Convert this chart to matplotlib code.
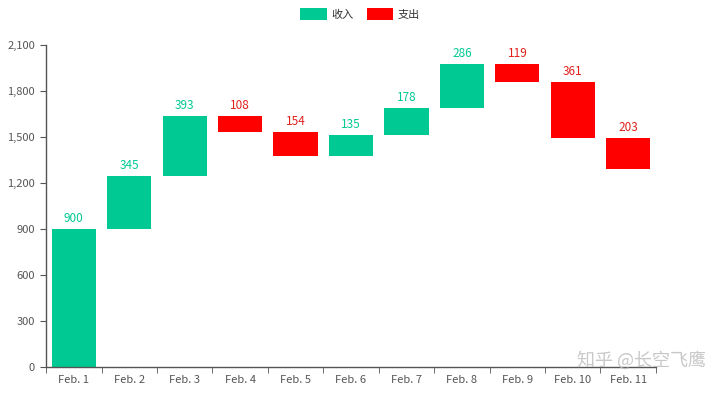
import numpy as np
import matplotlib.pyplot as plt

# data
days = ['Feb. 1', 'Feb. 2', 'Feb. 3', 'Feb. 4', 'Feb. 5', 'Feb. 6',
        'Feb. 7', 'Feb. 8', 'Feb. 9', 'Feb. 10', 'Feb. 11']
amounts = [900, 345, 393, 108, 154, 135, 178, 286, 119, 361, 203]
is_income = [True, True, True, False, False, True, True, True, False, False, False]

green = '#00C993'
red = '#FF0000'

plt.rcParams['font.family'] = ['Noto Sans CJK SC', 'DejaVu Sans']

signed = np.where(is_income, amounts, -np.array(amounts))
total = np.cumsum(signed)
base = np.where(is_income, total - signed, total)

fig = plt.figure(figsize=(7.2, 3.93), dpi=100)
ax = fig.add_axes([0.064, 0.066, 0.847, 0.82])

x = np.arange(len(days))
inc = np.array(is_income)
ax.bar(x[inc], np.array(amounts)[inc], bottom=base[inc], width=0.8,
       color=green, label='收入')
ax.bar(x[~inc], np.array(amounts)[~inc], bottom=base[~inc], width=0.8,
       color=red, label='支出')

for i in range(len(days)):
    ax.text(x[i], base[i] + amounts[i] + 25, str(amounts[i]),
            ha='center', va='bottom', fontsize=8.5,
            color=green if is_income[i] else '#E0201B')

ax.set_xlim(-0.5, len(days) - 0.5)
ax.set_ylim(0, 2100)
ax.set_yticks(np.arange(0, 2101, 300))
ax.set_yticklabels([f'{v:,}' for v in range(0, 2101, 300)])
ax.set_xticks(x)
ax.set_xticklabels(days)
ax.set_xticks(np.arange(-0.5, len(days), 1), minor=True)
ax.tick_params(axis='x', which='major', length=0, pad=6)
ax.tick_params(axis='x', which='minor', length=4, color='#555555')
ax.tick_params(axis='y', length=4, color='#555555', pad=4)
ax.tick_params(labelsize=8, labelcolor='#555555')

for s in ['top', 'right']:
    ax.spines[s].set_visible(False)
for s in ['left', 'bottom']:
    ax.spines[s].set_color('#555555')
    ax.spines[s].set_linewidth(1)

leg = fig.legend(loc='upper center', bbox_to_anchor=(0.5, 1.005), ncol=2,
                 frameon=False, fontsize=8, handlelength=2.4, handleheight=1.3,
                 columnspacing=1.2, handletextpad=0.4)
for t in leg.get_texts():
    t.set_color('#333333')

# watermark
fig.text(0.98, 0.058, '知乎 @长空飞鹰', ha='right', va='bottom',
         fontsize=13, color='#BBBBBB', alpha=0.8)

fig.savefig('out.png', dpi=100)
